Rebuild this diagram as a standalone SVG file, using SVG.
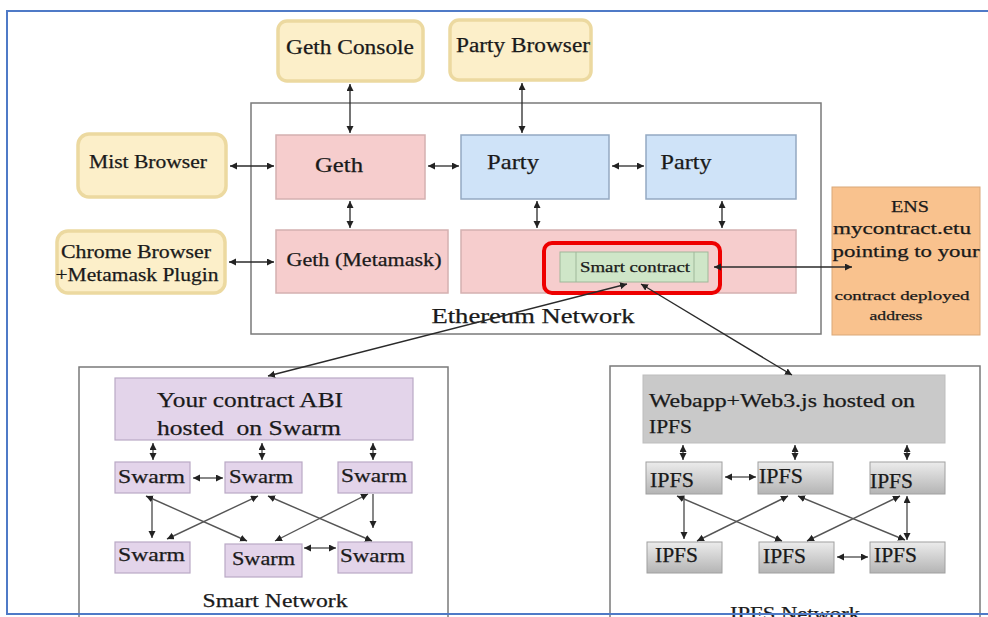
<svg xmlns="http://www.w3.org/2000/svg" width="988" height="617" viewBox="0 0 988 617">
<style>
text{font-family:"Liberation Serif","Times New Roman",serif;fill:#1a1a1a;stroke:#1a1a1a;stroke-width:0.25}
.gold{fill:#fcefc9;stroke:#ecd9a0;stroke-width:3.5}
.pink{fill:#f6cdcd;stroke:#d4b0b0;stroke-width:1.5}
.blue{fill:#cfe3f8;stroke:#94a9c2;stroke-width:1.5}
.purp{fill:#e3d4ea;stroke:#b9a9c5;stroke-width:1.2}
.ipfs{fill:url(#gr);stroke:#a0a0a0;stroke-width:1}
.frame{fill:#fff;stroke:#7a7a7a;stroke-width:1.5}
.c{fill:none;stroke:#2a2a2a;stroke-width:1.3;marker-end:url(#ah);marker-start:url(#ah)}
.g{fill:none;stroke:#555;stroke-width:1.4;marker-end:url(#ah);marker-start:url(#ah)}
.ge{fill:none;stroke:#555;stroke-width:1.4;marker-end:url(#ah)}
</style>
<defs>
<marker id="ah" markerUnits="userSpaceOnUse" markerWidth="8" markerHeight="8" refX="7" refY="3.5" orient="auto-start-reverse">
<path d="M0,0 L7,3.5 L0,7 z" fill="#222"/>
</marker>
<linearGradient id="gr" x1="0" y1="0" x2="0" y2="1">
<stop offset="0" stop-color="#ececec"/>
<stop offset="1" stop-color="#b4b4b4"/>
</linearGradient>
</defs>
<rect x="0" y="0" width="988" height="617" fill="#fff"/>

<!-- containers -->
<g id="ethereum-network">
<rect class="frame" x="251" y="103" width="570" height="231"/>
<text x="533" y="323" font-size="21" text-anchor="middle" textLength="203" lengthAdjust="spacingAndGlyphs">Ethereum Network</text>
</g>
<g id="smart-network">
<rect class="frame" x="79" y="367" width="369" height="260"/>
<text x="275" y="607" font-size="19" text-anchor="middle" textLength="145" lengthAdjust="spacingAndGlyphs">Smart Network</text>
</g>
<g id="ipfs-network">
<rect class="frame" x="610" y="366" width="370" height="260"/>
<text x="795" y="620" font-size="19" text-anchor="middle" textLength="130" lengthAdjust="spacingAndGlyphs">IPFS Network</text>
</g>

<!-- top external nodes -->
<g id="geth-console">
<rect class="gold" x="278" y="21" width="145" height="60" rx="9"/>
<text x="350" y="54" font-size="20" text-anchor="middle" textLength="128" lengthAdjust="spacingAndGlyphs">Geth Console</text>
</g>
<g id="party-browser">
<rect class="gold" x="450" y="20" width="141" height="60" rx="9"/>
<text x="523" y="52" font-size="20" text-anchor="middle" textLength="134" lengthAdjust="spacingAndGlyphs">Party Browser</text>
</g>
<g id="mist-browser">
<rect class="gold" x="78" y="134" width="148" height="63" rx="11"/>
<text x="148" y="168" font-size="18" text-anchor="middle" textLength="118" lengthAdjust="spacingAndGlyphs">Mist Browser</text>
</g>
<g id="chrome-browser">
<rect class="gold" x="57" y="231" width="168" height="62" rx="11"/>
<text x="136" y="258" font-size="18" text-anchor="middle" textLength="150" lengthAdjust="spacingAndGlyphs">Chrome Browser</text>
<text x="137" y="281" font-size="18" text-anchor="middle" textLength="163" lengthAdjust="spacingAndGlyphs">+Metamask Plugin</text>
</g>

<!-- ethereum nodes -->
<g id="geth">
<rect class="pink" x="276" y="135" width="149" height="64"/>
<text x="339" y="172" font-size="20" text-anchor="middle" textLength="48" lengthAdjust="spacingAndGlyphs">Geth</text>
</g>
<g id="geth-metamask">
<rect class="pink" x="276" y="230" width="172" height="63"/>
<text x="364" y="266" font-size="18" text-anchor="middle" textLength="155" lengthAdjust="spacingAndGlyphs">Geth (Metamask)</text>
</g>
<g id="party-1">
<rect class="blue" x="461" y="135" width="148" height="64"/>
<text x="513" y="169" font-size="21" text-anchor="middle" textLength="52" lengthAdjust="spacingAndGlyphs">Party</text>
</g>
<g id="party-2">
<rect class="blue" x="646" y="135" width="150" height="64"/>
<text x="686" y="169" font-size="21" text-anchor="middle" textLength="51" lengthAdjust="spacingAndGlyphs">Party</text>
</g>
<g id="party-node">
<rect class="pink" x="461" y="230" width="335" height="63"/>
</g>
<g id="smart-contract">
<rect x="560" y="252" width="148" height="30" fill="#cfe6c8" stroke="#9fb89a" stroke-width="1"/>
<line x1="576" y1="252" x2="576" y2="282" stroke="#9fb89a" stroke-width="1"/>
<line x1="694" y1="252" x2="694" y2="282" stroke="#9fb89a" stroke-width="1"/>
<text x="635" y="272" font-size="14" text-anchor="middle" textLength="110" lengthAdjust="spacingAndGlyphs">Smart contract</text>
<rect x="544" y="243" width="176" height="50" rx="8" fill="none" stroke="#ee0000" stroke-width="4"/>
</g>
<g id="ens">
<rect x="832" y="187" width="148" height="148" fill="#f9c28e" stroke="#d9a878" stroke-width="1"/>
<text x="910" y="212" font-size="17" text-anchor="middle" textLength="38" lengthAdjust="spacingAndGlyphs">ENS</text>
<text x="902" y="234" font-size="17" text-anchor="middle" textLength="138" lengthAdjust="spacingAndGlyphs">mycontract.etu</text>
<text x="906" y="257" font-size="17" text-anchor="middle" textLength="147" lengthAdjust="spacingAndGlyphs">pointing to your</text>
<text x="902" y="300" font-size="13" text-anchor="middle" textLength="135" lengthAdjust="spacingAndGlyphs">contract deployed</text>
<text x="896" y="320" font-size="13" text-anchor="middle" textLength="53" lengthAdjust="spacingAndGlyphs">address</text>
</g>

<!-- swarm -->
<g id="swarm-abi">
<rect class="purp" x="115" y="378" width="298" height="62"/>
<text x="157" y="407" font-size="22" textLength="186" lengthAdjust="spacingAndGlyphs">Your contract ABI</text>
<text x="157" y="435" font-size="22" textLength="184" lengthAdjust="spacingAndGlyphs" xml:space="preserve">hosted  on Swarm</text>
</g>
<g id="swarm-1"><rect class="purp" x="115" y="462" width="75" height="31"/><text x="118" y="483" font-size="19" textLength="67" lengthAdjust="spacingAndGlyphs">Swarm</text></g>
<g id="swarm-2"><rect class="purp" x="225" y="462" width="77" height="31"/><text x="229" y="483" font-size="19" textLength="64" lengthAdjust="spacingAndGlyphs">Swarm</text></g>
<g id="swarm-3"><rect class="purp" x="338" y="462" width="74" height="31"/><text x="341" y="482" font-size="19" textLength="66" lengthAdjust="spacingAndGlyphs">Swarm</text></g>
<g id="swarm-4"><rect class="purp" x="115" y="542" width="75" height="31"/><text x="118" y="561" font-size="19" textLength="67" lengthAdjust="spacingAndGlyphs">Swarm</text></g>
<g id="swarm-5"><rect class="purp" x="225" y="544" width="77" height="33"/><text x="232" y="565" font-size="19" textLength="63" lengthAdjust="spacingAndGlyphs">Swarm</text></g>
<g id="swarm-6"><rect class="purp" x="338" y="542" width="74" height="31"/><text x="340" y="562" font-size="19" textLength="65" lengthAdjust="spacingAndGlyphs">Swarm</text></g>

<!-- ipfs -->
<g id="ipfs-webapp">
<rect x="643" y="375" width="302" height="68" fill="#c9c9c9" stroke="#bdbdbd" stroke-width="1"/>
<text x="649" y="407" font-size="19" textLength="266" lengthAdjust="spacingAndGlyphs">Webapp+Web3.js hosted on</text>
<text x="649" y="433" font-size="19" textLength="43" lengthAdjust="spacingAndGlyphs">IPFS</text>
</g>
<g id="ipfs-1"><rect class="ipfs" x="646" y="462" width="76" height="32"/><text x="650" y="487" font-size="20" textLength="44" lengthAdjust="spacingAndGlyphs">IPFS</text></g>
<g id="ipfs-2"><rect class="ipfs" x="758" y="462" width="75" height="32"/><text x="759" y="483" font-size="20" textLength="44" lengthAdjust="spacingAndGlyphs">IPFS</text></g>
<g id="ipfs-3"><rect class="ipfs" x="870" y="462" width="75" height="32"/><text x="870" y="488" font-size="20" textLength="43" lengthAdjust="spacingAndGlyphs">IPFS</text></g>
<g id="ipfs-4"><rect class="ipfs" x="647" y="542" width="75" height="31"/><text x="655" y="562" font-size="20" textLength="43" lengthAdjust="spacingAndGlyphs">IPFS</text></g>
<g id="ipfs-5"><rect class="ipfs" x="759" y="542" width="75" height="31"/><text x="763" y="563" font-size="20" textLength="43" lengthAdjust="spacingAndGlyphs">IPFS</text></g>
<g id="ipfs-6"><rect class="ipfs" x="870" y="542" width="75" height="31"/><text x="874" y="562" font-size="20" textLength="43" lengthAdjust="spacingAndGlyphs">IPFS</text></g>

<!-- connectors -->
<g id="connectors">
<line class="c" x1="350" y1="84" x2="350" y2="133"/>
<line class="c" x1="522" y1="83" x2="522" y2="133"/>
<line class="c" x1="230" y1="166" x2="274" y2="166"/>
<line class="c" x1="428" y1="166" x2="459" y2="166"/>
<line class="c" x1="612" y1="166" x2="644" y2="166"/>
<line class="c" x1="350" y1="201" x2="350" y2="228"/>
<line class="c" x1="537" y1="201" x2="537" y2="228"/>
<line class="c" x1="722" y1="201" x2="722" y2="228"/>
<line class="c" x1="229" y1="262" x2="274" y2="262"/>
<line class="c" x1="714" y1="267" x2="852" y2="267"/>
<line class="c" x1="627" y1="284" x2="268" y2="376"/>
<line class="c" x1="641" y1="284" x2="792" y2="375"/>

<line class="g" x1="153" y1="443" x2="153" y2="460"/>
<line class="g" x1="262" y1="443" x2="262" y2="460"/>
<line class="g" x1="373" y1="443" x2="373" y2="460"/>
<line class="g" x1="193" y1="478" x2="223" y2="478"/>
<line class="g" x1="304" y1="548" x2="336" y2="548"/>
<line class="ge" x1="152" y1="497" x2="152" y2="538"/>
<line class="ge" x1="373" y1="494" x2="373" y2="528"/>
<line class="g" x1="146" y1="496" x2="247" y2="541"/>
<line class="g" x1="258" y1="496" x2="167" y2="539"/>
<line class="g" x1="268" y1="496" x2="372" y2="541"/>
<line class="g" x1="368" y1="494" x2="275" y2="541"/>

<line class="g" x1="683" y1="445" x2="683" y2="460"/>
<line class="g" x1="795" y1="445" x2="795" y2="460"/>
<line class="g" x1="907" y1="445" x2="907" y2="460"/>
<line class="g" x1="725" y1="477" x2="756" y2="477"/>
<line class="g" x1="837" y1="557" x2="868" y2="557"/>
<line class="ge" x1="684" y1="496" x2="684" y2="539"/>
<line class="g" x1="907" y1="496" x2="907" y2="540"/>
<line class="g" x1="677" y1="496" x2="782" y2="541"/>
<line class="g" x1="788" y1="496" x2="697" y2="541"/>
<line class="g" x1="798" y1="496" x2="905" y2="540"/>
<line class="g" x1="900" y1="496" x2="807" y2="541"/>
</g>

<rect x="7" y="11" width="1000" height="603" fill="none" stroke="#4f7ac7" stroke-width="2"/>
</svg>
